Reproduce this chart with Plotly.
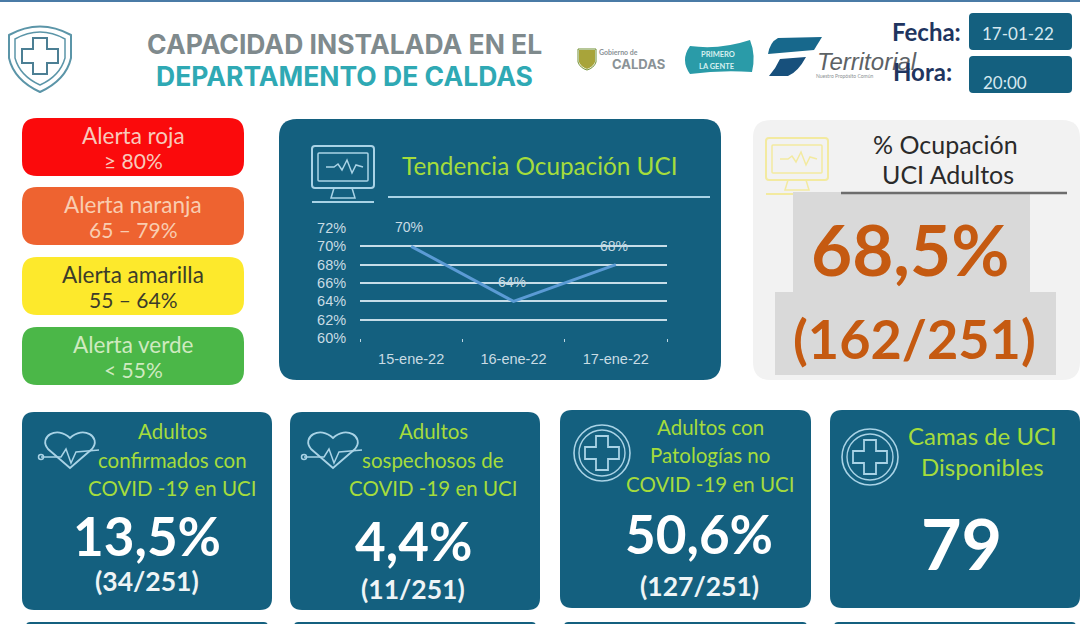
"""Tablero de capacidad UCI de Caldas, recreado con Plotly."""

import plotly.graph_objects as go

FECHAS = ["15-ene-22", "16-ene-22", "17-ene-22"]
OCUPACION = [70, 64, 68]
Y_TICKS = [60, 62, 64, 66, 68, 70, 72]

ALERTAS = ["Alerta roja<br>≥ 80%", "Alerta naranja<br>65 – 79%", "Alerta amarilla<br>55 – 64%", "Alerta verde<br>< 55%"]
ALERTA_COLORES = ["#fb0a0c", "#ee6330", "#fde92c", "#4bb748"]
ALERTA_TEXTO = ["#f8c9bb", "#f9cdb0", "#3c3c2a", "#cfeac0"]

TARJETA_TITULOS = [
    ["Adultos", "confirmados con", "COVID -19 en UCI"],
    ["Adultos", "sospechosos de", "COVID -19 en UCI"],
    ["Adultos con", "Patologías no", "COVID -19 en UCI"],
    ["Camas de UCI", "Disponibles"],
]
TARJETA_VALORES = ["13,5%", "4,4%", "50,6%", "79"]
TARJETA_FRACCION = ["(34/251)", "(11/251)", "(127/251)", ""]

TEAL = "#14607f"
LIMA = "#a5dc3c"
CLARO = "#a9d3e6"
FUENTE = "Lato"


def rounded(x0, y0, x1, y1, r):
    """Path de rectangulo con esquinas redondeadas."""
    return (
        f"M{x0+r},{y0} L{x1-r},{y0} Q{x1},{y0} {x1},{y0+r} L{x1},{y1-r} Q{x1},{y1} {x1-r},{y1} "
        f"L{x0+r},{y1} Q{x0},{y1} {x0},{y1-r} L{x0},{y0+r} Q{x0},{y0} {x0+r},{y0} Z"
    )


def cross_path(cx, cy, a, b):
    """Path de una cruz medica con brazos de semiancho a y largo b."""
    return (
        f"M{cx-a},{cy-b} L{cx+a},{cy-b} L{cx+a},{cy-a} L{cx+b},{cy-a} L{cx+b},{cy+a} L{cx+a},{cy+a} "
        f"L{cx+a},{cy+b} L{cx-a},{cy+b} L{cx-a},{cy+a} L{cx-b},{cy+a} L{cx-b},{cy-a} L{cx-a},{cy-a} Z"
    )


fig = go.Figure()
shapes = []
annotations = []


def box(x0, y0, x1, y1, r, fill, line=None, width=0):
    shapes.append(
        dict(
            type="path",
            path=rounded(x0, y0, x1, y1, r),
            xref="x",
            yref="y",
            fillcolor=fill,
            line=dict(color=line or fill, width=width),
            layer="below",
        )
    )


def outline(path, color, width=1.5):
    shapes.append(dict(type="path", path=path, xref="x", yref="y", line=dict(color=color, width=width), layer="below"))


def ring(cx, cy, r, color, width=1.5):
    shapes.append(
        dict(type="circle", x0=cx - r, x1=cx + r, y0=cy - r, y1=cy + r, xref="x", yref="y", line=dict(color=color, width=width), layer="below")
    )


def label(x, y, text, size, color, bold=False, font=FUENTE, anchor="center"):
    annotations.append(
        dict(
            x=x,
            y=y,
            xref="x",
            yref="y",
            text=f"<b>{text}</b>" if bold else text,
            showarrow=False,
            xanchor=anchor,
            yanchor="middle",
            align="center",
            font=dict(size=size, color=color, family=font),
        )
    )


def monitor(x, y, color, w=62, h=42):
    """Icono de monitor con pulso."""
    box(x, y, x + w, y + h, 3, "rgba(0,0,0,0)", color, 2)
    box(x + 6, y + 7, x + w - 6, y + h - 7, 1, "rgba(0,0,0,0)", color, 1.5)
    m = y + h / 2
    outline(
        f"M{x+14},{m} L{x+22},{m} L{x+26},{m-3} L{x+30},{m+3} L{x+35},{m-7} L{x+40},{m+6} L{x+44},{m-2} L{x+51},{m}",
        color,
    )
    outline(f"M{x+22},{y+h} L{x+19},{y+h+10} L{x+w-19},{y+h+10} L{x+w-22},{y+h}", color)
    outline(f"M{x},{y+h+14} L{x+w},{y+h+14}", color, 2)


def heart(x, y, color):
    """Icono de corazon con latido."""
    outline(
        f"M{x+29},{y+38} L{x+7},{y+19} C{x-3},{y+7} {x+16},{y-5} {x+29},{y+8} "
        f"C{x+42},{y-5} {x+61},{y+7} {x+51},{y+19} Z",
        color,
        1.8,
    )
    outline(f"M{x},{y+27} L{x+20},{y+27} L{x+25},{y+19} L{x+30},{y+33} L{x+35},{y+22} L{x+58},{y+20}", color, 1.5)
    ring(x, y + 27, 2.5, color)


def cross_icon(cx, cy, color):
    """Icono de cruz dentro de dos circulos."""
    ring(cx, cy, 28, color, 1.6)
    ring(cx, cy, 23, color, 1.4)
    outline(cross_path(cx, cy, 6, 17), color, 1.8)


# ---- encabezado
box(0, 0, 1080, 2, 0, "#4a7ba6")
outline("M9,35 Q40,18 71,35 L71,58 Q66,80 40,92 Q14,80 9,58 Z", "#5b95a8", 2)
outline("M15,39 Q40,25 65,39 L65,58 Q60,76 40,85 Q20,76 15,58 Z", "#5b95a8", 1.5)
outline(cross_path(40, 56, 7, 18), "#4c7f94", 2)
label(344, 44, "CAPACIDAD INSTALADA EN EL", 26.5, "#7f8a8d", bold=True, font="Inter")
label(344, 76, "DEPARTAMENTO DE CALDAS", 26.5, "#2fa9b4", bold=True, font="Inter")

# logos
outline("M578,49 L596,49 L596,62 Q594,68 587,70 Q580,68 578,62 Z", "#6f8f30", 1)
shapes.append(dict(type="path", path="M579,50 L595,50 L595,62 Q593,67 587,69 Q581,67 579,62 Z", xref="x", yref="y", fillcolor="#a8a43a", line=dict(width=0), layer="below"))
label(618, 52, "Gobierno de", 7, "#8a9296", bold=True)
label(638, 64, "CALDAS", 13, "#8a9296", bold=True, font="Inter")
shapes.append(
    dict(
        type="path",
        path="M690,46 Q720,50 750,40 Q756,55 752,72 Q720,70 690,74 Q680,60 690,46 Z",
        xref="x",
        yref="y",
        fillcolor="#2a9ba8",
        line=dict(width=0),
        layer="below",
    )
)
label(718, 54, "PRIMERO", 7.5, "#d8f0f0", bold=True)
label(717, 66, "LA GENTE", 7.5, "#d8f0f0", bold=True)
shapes.append(dict(type="path", path="M778,38 L822,37 L814,50 L768,54 Q770,42 778,38 Z", xref="x", yref="y", fillcolor="#17688c", line=dict(width=0), layer="below"))
shapes.append(dict(type="path", path="M780,59 L806,57 Q798,72 788,76 L769,76 Q776,68 780,59 Z", xref="x", yref="y", fillcolor="#17507c", line=dict(width=0), layer="below"))
label(815, 61, "<i>Territorial</i>", 24, "#5d6266", anchor="left", font="Liberation Sans")
label(844, 76, "Nuestro Propósito Común", 5, "#8a8f92")

label(926, 31, "Fecha:", 24, "#1f3560", bold=True)
label(922, 71, "Hora:", 24, "#1f3560", bold=True)
box(969, 13, 1072, 50, 4, TEAL)
box(969, 56, 1072, 93, 4, TEAL)
label(1018, 33, "17-01-22", 17, "#d6e8ef")
label(1005, 82, "20:00", 17, "#d6e8ef")

# ---- alertas
for i, texto in enumerate(ALERTAS):
    top = [118, 187, 257, 327][i]
    box(22, top, 244, top + 58, 15, ALERTA_COLORES[i])
    lineas = texto.split("<br>")
    label(133, top + 17, lineas[0], 22.5, ALERTA_TEXTO[i])
    label(133, top + 42, lineas[1], 21, ALERTA_TEXTO[i])

# ---- panel de tendencia
box(279, 119, 721, 380, 18, TEAL)
monitor(312, 146, CLARO)
outline("M388,197 L710,197", CLARO, 2)
label(540, 165, "Tendencia Ocupación UCI", 24.3, LIMA)

fig.add_trace(go.Scatter(x=[], y=[], xaxis="x", yaxis="y", hoverinfo="skip", showlegend=False))
fig.add_trace(
    go.Scatter(
        x=FECHAS,
        y=OCUPACION,
        xaxis="x2",
        yaxis="y2",
        mode="lines",
        line=dict(color="#5b9bd5", width=3),
        showlegend=False,
    )
)
for fecha, valor in zip(FECHAS, OCUPACION):
    annotations.append(
        dict(
            x=fecha,
            y=valor,
            xref="x2",
            yref="y2",
            yshift=19,
            xshift=-2,
            text=f"{valor}%",
            showarrow=False,
            font=dict(size=14, color="#c9dce4", family="Liberation Sans"),
        )
    )

# ---- panel de ocupacion
box(753, 120, 1080, 380, 18, "#f2f2f2")
monitor(766, 138, "#f3eaa0")
box(793, 192, 1030, 292, 0, "#d9d9d9")
box(775, 292, 1056, 375, 0, "#d9d9d9")
outline("M841,193 L1067,193", "#6d6d6d", 2.5)
label(945, 144, "% Ocupación", 25, "#2a2a2a", font=FUENTE)
label(948, 174, "UCI Adultos", 25, "#2a2a2a", font=FUENTE)
label(910, 248, "68,5%", 71, "#c55a11", bold=True)
label(914, 338, "(162/251)", 54, "#c55a11", bold=True)

# ---- tarjetas inferiores
CARD_X = [(22, 272), (290, 540), (560, 811), (830, 1080)]
CARD_Y = [(412, 610), (412, 610), (410, 608), (410, 608)]
TITULO_X = [172, 433, 710, 982]
TITULO_Y = [[431, 460, 488], [431, 460, 488], [427, 455, 484], [435, 466]]
VALOR_POS = [(147, 535), (413, 540), (699, 533), (961, 543)]
FRACCION_POS = [(147, 581), (413, 589), (699, 586), None]

for i, titulos in enumerate(TARJETA_TITULOS):
    x0, x1 = CARD_X[i]
    y0, y1 = CARD_Y[i]
    box(x0, y0, x1, y1, 12, TEAL)
    box(x0 + 4, 622, x1 - 4, 632, 4, TEAL)
    for texto, y in zip(titulos, TITULO_Y[i]):
        label(TITULO_X[i], y, texto, 20.5 if i < 3 else 24, LIMA)
    label(VALOR_POS[i][0], VALOR_POS[i][1], TARJETA_VALORES[i], 53 if i < 3 else 70, "white", bold=True)
    if TARJETA_FRACCION[i]:
        label(FRACCION_POS[i][0], FRACCION_POS[i][1], TARJETA_FRACCION[i], 26.5, "#eef4f6", bold=True)

heart(41, 430, CLARO)
heart(304, 430, CLARO)
cross_icon(602, 453, CLARO)
cross_icon(870, 457, CLARO)

fig.update_layout(
    width=1080,
    height=624,
    margin=dict(l=0, r=0, t=0, b=0, autoexpand=False),
    paper_bgcolor="white",
    plot_bgcolor="rgba(0,0,0,0)",
    shapes=shapes,
    annotations=annotations,
    xaxis=dict(range=[0, 1080], domain=[0, 1], visible=False, fixedrange=True, automargin=False),
    yaxis=dict(range=[624, 0], domain=[0, 1], visible=False, fixedrange=True, automargin=False),
    xaxis2=dict(
        type="category",
        range=[-0.5, 2.5],
        domain=[360 / 1080, 667 / 1080],
        anchor="y2",
        automargin=False,
        tickson="boundaries",
        ticks="outside",
        ticklen=3,
        tickcolor="#bcd6e2",
        ticklabelstandoff=10,
        showgrid=False,
        showline=False,
        zeroline=False,
        tickfont=dict(size=14.5, color="#c9dce4", family="Liberation Sans"),
    ),
    yaxis2=dict(
        range=[60, 72],
        domain=[(624 - 338) / 624, (624 - 228) / 624],
        anchor="x2",
        automargin=False,
        tickvals=Y_TICKS,
        ticktext=[f"{v}%" for v in Y_TICKS],
        showgrid=True,
        gridcolor="#c6dde8",
        gridwidth=1.5,
        zeroline=False,
        showline=False,
        ticks="outside",
        ticklen=10,
        tickcolor="rgba(0,0,0,0)",
        tickfont=dict(size=14.5, color="#c9dce4", family="Liberation Sans"),
    ),
    showlegend=False,
)

# sin el margen por defecto del body, para que la figura ocupe toda la ventana
fig.write_html("out.html", config={"displayModeBar": False}, post_script="document.body.style.margin = '0';")
